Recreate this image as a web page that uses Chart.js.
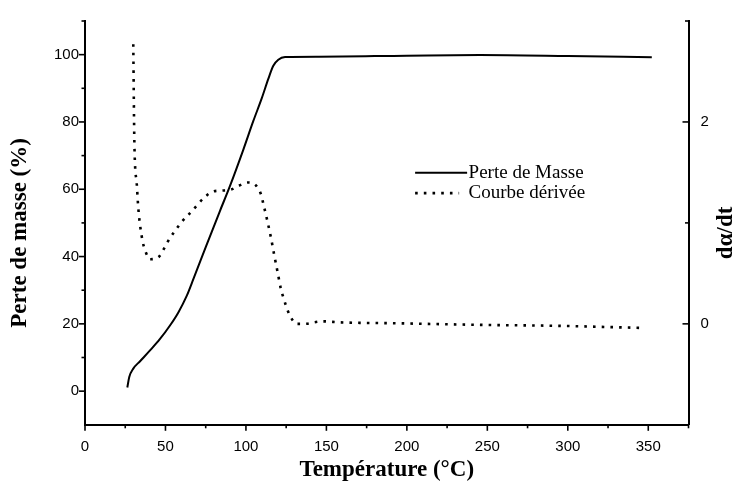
<!DOCTYPE html>
<html>
<head>
<meta charset="utf-8">
<script src="https://cdn.jsdelivr.net/npm/chart.js@4"></script>
<style>
  body { margin: 0; background: #fff; }
  #wrap { width: 737px; height: 491px; }
</style>
</head>
<body>
<div id="wrap"><canvas id="tga_chart"></canvas></div>
<script>
//Mass loss curve (left axis, %)
const tempMasse = [26.3, 27.5, 30.0, 34.2, 40.4, 46.6, 52.8, 58.0, 63.2, 67.5, 75.2, 83.9, 90.1, 98.4, 104.6, 109.8, 113.9, 117.0, 120.1, 124.3, 145.4, 200, 245.5, 300, 352.2];
const perteMasse = [1.1, 4.2, 6.7, 8.9, 12.1, 15.5, 19.5, 23.4, 28.3, 33.5, 43.0, 53.6, 61.0, 71.8, 80.3, 87.0, 92.8, 96.7, 98.5, 99.3, 99.4, 99.7, 99.9, 99.6, 99.2];

//Derivative curve (right axis, da/dt)
const tempDerivee = [30.0, 30.6, 31.1, 32.1, 33.1, 34.2, 35.9, 37.3, 40.4, 45.6, 49.3, 52.4, 55.9, 60.1, 64.8, 69.4, 74.0, 79.4, 84.9, 90.7, 95.9, 101.1, 106.3, 109.4, 110.8, 113.3, 115.6, 117.6, 119.7, 121.8, 123.5, 125.1, 127.4, 131.6, 136.9, 142.3, 147.7, 158.5, 195.8, 245.5, 295.2, 344.9];
const derivee = [2.77, 1.87, 1.57, 1.40, 1.15, 0.98, 0.81, 0.73, 0.64, 0.66, 0.75, 0.84, 0.92, 1.01, 1.09, 1.17, 1.25, 1.31, 1.32, 1.33, 1.37, 1.40, 1.37, 1.28, 1.19, 1.02, 0.85, 0.68, 0.51, 0.34, 0.25, 0.17, 0.08, 0.0, 0.0, 0.015, 0.025, 0.015, 0.005, -0.01, -0.02, -0.04];

//Ticks
const xTicks = [0, 50, 100, 150, 200, 250, 300, 350];
const xMinorTicks = [25, 75, 125, 175, 225, 275, 325, 375];
const yTicks = [0, 20, 40, 60, 80, 100];
const yMinorTicks = [10, 30, 50, 70, 90, 110];
const y2Ticks = [0, 2];
const y2MinorTicks = [1, 3];

const serif = '"Liberation Serif", "Times New Roman", serif';
const sans = '"Liberation Sans", Arial, sans-serif';

const toPoints = (xs, ys) => xs.map((x, i) => ({x: x, y: ys[i]}));
const fixTicks = list => scale => { scale.ticks = list.map(v => ({value: v})); };

//tick marks, vertical titles and legend
const axisDecor = {
  id: 'axisDecor',
  afterDraw(chart) {
    const {ctx, chartArea: area, scales} = chart;
    ctx.save();
    ctx.strokeStyle = '#000';
    ctx.lineWidth = 1.6;
    const marks = [
      [scales.x, xTicks, 6], [scales.x, xMinorTicks, 3.5],
      [scales.y, yTicks, 6], [scales.y, yMinorTicks, 3.5],
      [scales.y2, y2Ticks, 6], [scales.y2, y2MinorTicks, 3.5]
    ];
    marks.forEach(([s, vals, len]) => {
      vals.forEach(v => {
        const p = s.getPixelForValue(v);
        ctx.beginPath();
        if (s.axis === 'x') {
          ctx.moveTo(p, area.bottom); ctx.lineTo(p, area.bottom + len);
        } else if (s.position === 'left') {
          ctx.moveTo(area.left, p); ctx.lineTo(area.left - len, p);
        } else {
          ctx.moveTo(area.right, p); ctx.lineTo(area.right - len, p);
        }
        ctx.stroke();
      });
    });

    //vertical axis titles, both read bottom to top
    ctx.fillStyle = '#000';
    ctx.textAlign = 'center';
    ctx.textBaseline = 'middle';
    ctx.font = 'bold 23px ' + serif;
    const midY = (area.top + area.bottom) / 2 + 10;
    ctx.save();
    ctx.translate(20, midY);
    ctx.rotate(-Math.PI / 2);
    ctx.fillText('Perte de masse (%)', 0, 0);
    ctx.restore();
    ctx.save();
    ctx.translate(chart.width - 11, midY);
    ctx.rotate(-Math.PI / 2);
    ctx.fillText('d\u03b1/dt', 0, 0);
    ctx.restore();

    //legend
    const lx = area.left + area.width * 0.547;
    const ly = area.top + area.height * 0.3755;
    const sampleLen = [52, 44];
    ctx.font = '19px ' + serif;
    ctx.textAlign = 'left';
    chart.data.datasets.forEach((ds, i) => {
      const y = ly + i * 20.5;
      ctx.setLineDash(ds.borderDash || []);
      ctx.lineWidth = ds.borderWidth;
      ctx.beginPath();
      ctx.moveTo(lx, y);
      ctx.lineTo(lx + sampleLen[i], y);
      ctx.stroke();
      ctx.setLineDash([]);
      ctx.fillText(ds.label, lx + 53.5, y);
    });
    ctx.restore();
  }
};

const tga_chart = document.getElementById('tga_chart');

new Chart(tga_chart, {
  type: 'scatter',
  data: {
    datasets: [
      {
        label: 'Perte de Masse',
        data: toPoints(tempMasse, perteMasse),
        yAxisID: 'y',
        showLine: true,
        borderColor: '#000',
        borderWidth: 2,
        pointRadius: 0,
        cubicInterpolationMode: 'monotone'
      },
      {
        label: 'Courbe dérivée',
        data: toPoints(tempDerivee, derivee),
        yAxisID: 'y2',
        showLine: true,
        borderColor: '#000',
        borderWidth: 2.6,
        borderDash: [2.6, 6.1],
        pointRadius: 0,
        cubicInterpolationMode: 'monotone'
      }
    ]
  },
  options: {
    responsive: true,
    maintainAspectRatio: false,
    animation: false,
    layout: { padding: { top: 18.4, left: 0, right: 0, bottom: 0 } },
    plugins: {
      legend: { display: false },
      tooltip: { enabled: false }
    },
    scales: {
      x: {
        type: 'linear',
        min: 0,
        max: 375,
        afterBuildTicks: fixTicks(xTicks),
        afterFit: s => { s.height = 66.2; },
        grid: { display: false, drawTicks: false },
        border: { display: true, color: '#000', width: 2 },
        ticks: { padding: 13, color: '#000', font: { family: sans, size: 15 } },
        title: {
          display: true,
          text: 'Température (°C)',
          color: '#000',
          font: { family: serif, size: 23, weight: 'bold', lineHeight: 1.2 },
          padding: { top: 0, bottom: 7 }
        }
      },
      y: {
        position: 'left',
        min: -10,
        max: 110,
        afterBuildTicks: fixTicks(yTicks),
        afterFit: s => { s.width = 85; },
        grid: { display: false, drawTicks: false },
        border: { display: true, color: '#000', width: 2 },
        ticks: { padding: 6, color: '#000', font: { family: sans, size: 15 } }
      },
      y2: {
        position: 'right',
        min: -1,
        max: 3,
        afterBuildTicks: fixTicks(y2Ticks),
        afterFit: s => { s.width = 48.5; },
        grid: { display: false, drawTicks: false },
        border: { display: true, color: '#000', width: 2 },
        ticks: { padding: 12, color: '#000', font: { family: sans, size: 15 } }
      }
    }
  },
  plugins: [axisDecor]
});
</script>
</body>
</html>
